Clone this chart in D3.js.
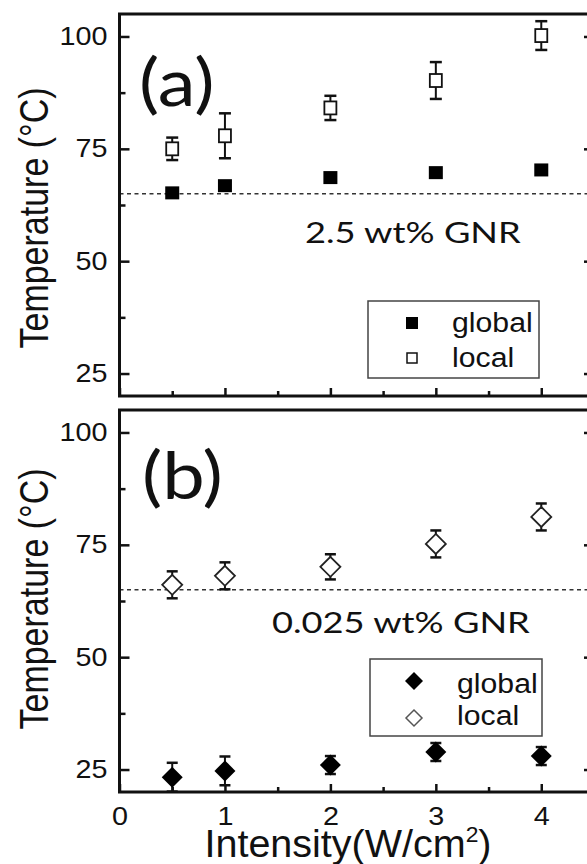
<!DOCTYPE html>
<meta charset="utf-8" />
<script src="https://d3js.org/d3.v7.min.js"></script>
<body style="margin:0;background:#fff">
  <div id="chart"></div>
  <script>
    // data
    const intensity = [0.5, 1, 2, 3, 4];
    // (a) 2.5 wt% GNR
    const globalA = [65.2, 66.8, 68.6, 69.7, 70.3];
    const globalAErr = [0.8, 0.8, 0.8, 0.8, 0.8];
    const localA = [75.0, 77.9, 84.1, 90.2, 100.2];
    const localAErr = [2.5, 5.0, 2.7, 4.1, 3.2];
    // (b) 0.025 wt% GNR
    const globalB = [23.3, 24.7, 26.0, 28.9, 28.0];
    const globalBErr = [3.2, 3.2, 2.0, 2.0, 2.0];
    const localB = [66.1, 68.1, 70.1, 75.2, 81.2];
    const localBErr = [3.0, 3.0, 2.8, 3.0, 3.0];
    const refTemp = 65;
    const xTicks = [0, 1, 2, 3, 4];
    const xMinor = [0.5, 1.5, 2.5, 3.5];
    const yTicks = [25, 50, 75, 100];
    const yMinor = [37.5, 62.5, 87.5];

    const W = 587, H = 864;
    const sx = 1.15; // figure is stretched horizontally
    const svg = d3.select("#chart").append("svg")
      .attr("width", W).attr("height", H)
      .style("font-family", "'Liberation Sans', Arial, sans-serif");

    const x = d3.scaleLinear().domain([0, 4.5]).range([119.5, 594]);

    function panel(top, bottom, opts) {
      const y = d3.scaleLinear().domain([20, 105]).range([bottom, top]);
      const g = svg.append("g");

      // dashed reference line
      g.append("line")
        .attr("x1", x(0)).attr("x2", x(4.5))
        .attr("y1", y(refTemp)).attr("y2", y(refTemp))
        .attr("stroke", "#333").attr("stroke-width", 1.5)
        .attr("stroke-dasharray", "4,3.5");

      // axes with inward ticks
      const left = g.append("g").attr("transform", "translate(" + x(0) + ",0)")
        .call(d3.axisLeft(y).tickValues(yTicks).tickSize(-10).tickPadding(11));
      g.append("g").attr("transform", "translate(" + x(0) + ",0)")
        .call(d3.axisLeft(y).tickValues(yMinor).tickSize(-6).tickFormat(""));
      g.append("g").attr("transform", "translate(" + x(4.5) + ",0)")
        .call(d3.axisRight(y).tickValues(yTicks).tickSize(-10).tickFormat(""));
      g.append("g").attr("transform", "translate(" + x(4.5) + ",0)")
        .call(d3.axisRight(y).tickValues(yMinor).tickSize(-6).tickFormat(""));
      const bot = g.append("g").attr("transform", "translate(0," + bottom + ")")
        .call(d3.axisBottom(x).tickValues(xTicks).tickSize(-8).tickPadding(15)
          .tickFormat(opts.xLabels ? d3.format("d") : ""));
      g.append("g").attr("transform", "translate(0," + bottom + ")")
        .call(d3.axisBottom(x).tickValues(xMinor).tickSize(-5).tickFormat(""));

      g.selectAll(".domain").remove();
      g.selectAll(".tick text").filter(function () { return !this.textContent; }).remove();
      g.selectAll(".tick line").attr("stroke", "#111").attr("stroke-width", 2.5);
      g.selectAll(".tick text").attr("fill", "#111").style("font-size", "25px")
        .attr("font-family", "'Liberation Sans', Arial, sans-serif");
      left.selectAll(".tick text").attr("transform", "scale(" + sx + ",1)")
        .attr("x", -12 / sx);
      bot.selectAll(".tick text").attr("transform", "scale(" + sx + ",1)")
        .attr("x", 0);

      // frame
      g.append("rect")
        .attr("x", x(0)).attr("y", top)
        .attr("width", x(4.5) - x(0)).attr("height", bottom - top)
        .attr("fill", "none").attr("stroke", "#111").attr("stroke-width", 3);

      // y title
      g.append("text")
        .attr("transform", "translate(48," + opts.titleY + ") rotate(-90) scale(1,1.19)")
        .attr("text-anchor", "middle")
        .style("font-size", "34px").attr("fill", "#111")
        .text("Temperature (°C)");

      // panel tag
      g.append("text")
        .attr("transform", "translate(" + opts.tagX + "," + opts.tagY + ") scale(1.15,1)")
        .style("font-family", "Lato, 'Open Sans', sans-serif")
        .style("font-size", "66px").attr("fill", "#111")
        .text(opts.tag);

      // sample label
      g.append("text")
        .attr("transform", "translate(" + opts.labelX + "," + opts.labelY + ") scale(1.25,1)")
        .style("font-family", "Lato, 'Open Sans', sans-serif")
        .style("font-size", "29px").attr("fill", "#111")
        .text(opts.label);

      return { g, y };
    }

    function errorBars(g, y, vals, errs, cap) {
      const eb = g.append("g").attr("stroke", "#111").attr("stroke-width", 2);
      intensity.forEach((xi, i) => {
        const cx = x(xi);
        eb.append("line").attr("x1", cx).attr("x2", cx)
          .attr("y1", y(vals[i] - errs[i])).attr("y2", y(vals[i] + errs[i]));
        [vals[i] - errs[i], vals[i] + errs[i]].forEach(v => {
          eb.append("line").attr("x1", cx - cap).attr("x2", cx + cap)
            .attr("y1", y(v)).attr("y2", y(v)).attr("stroke-width", 2.5);
        });
      });
    }

    const diamond = s => "M0," + (-s) + "L" + s + ",0L0," + s + "L" + (-s) + ",0Z";

    // ---------- panel (a)
    const pa = panel(14, 396, {
      xLabels: false, titleY: 218, tag: "(a)", tagX: 139, tagY: 106,
      label: "2.5 wt% GNR", labelX: 305, labelY: 243
    });
    errorBars(pa.g, pa.y, localA, localAErr, 6);
    errorBars(pa.g, pa.y, globalA, globalAErr, 6);
    pa.g.selectAll(".locA").data(localA).join("rect")
      .attr("x", (d, i) => x(intensity[i]) - 6).attr("y", d => pa.y(d) - 6.5)
      .attr("width", 12).attr("height", 13)
      .attr("fill", "#fff").attr("stroke", "#111").attr("stroke-width", 1.8);
    pa.g.selectAll(".gloA").data(globalA).join("rect")
      .attr("x", (d, i) => x(intensity[i]) - 7).attr("y", d => pa.y(d) - 6.5)
      .attr("width", 14).attr("height", 13).attr("fill", "#000");

    // legend (a)
    const la = pa.g.append("g");
    la.append("rect").attr("x", 368).attr("y", 301).attr("width", 171).attr("height", 77)
      .attr("fill", "#fff").attr("stroke", "#444").attr("stroke-width", 1.5);
    la.append("rect").attr("x", 406).attr("y", 317).attr("width", 12).attr("height", 12).attr("fill", "#000");
    la.append("rect").attr("x", 407).attr("y", 353).attr("width", 10).attr("height", 10)
      .attr("fill", "#fff").attr("stroke", "#111").attr("stroke-width", 1.5);
    la.append("text").attr("transform", "translate(452,332) scale(1.12,1)")
      .style("font-size", "27px").attr("fill", "#111").text("global");
    la.append("text").attr("transform", "translate(452,367) scale(1.12,1)")
      .style("font-size", "27px").attr("fill", "#111").text("local");

    // ---------- panel (b)
    const pb = panel(410, 792, {
      xLabels: true, titleY: 599, tag: "(b)", tagX: 142, tagY: 499,
      label: "0.025 wt% GNR", labelX: 272, labelY: 633
    });
    errorBars(pb.g, pb.y, localB, localBErr, 5.5);
    errorBars(pb.g, pb.y, globalB, globalBErr, 5.5);
    pb.g.selectAll(".locB").data(localB).join("path")
      .attr("transform", (d, i) => "translate(" + x(intensity[i]) + "," + pb.y(d) + ")")
      .attr("d", diamond(10))
      .attr("fill", "#fff").attr("stroke", "#222").attr("stroke-width", 1.8);
    pb.g.selectAll(".gloB").data(globalB).join("path")
      .attr("transform", (d, i) => "translate(" + x(intensity[i]) + "," + pb.y(d) + ")")
      .attr("d", diamond(10.5)).attr("fill", "#000");

    // legend (b)
    const lb = pb.g.append("g");
    lb.append("rect").attr("x", 370).attr("y", 659).attr("width", 172).attr("height", 77)
      .attr("fill", "#fff").attr("stroke", "#444").attr("stroke-width", 1.5);
    lb.append("path").attr("transform", "translate(414,681)").attr("d", diamond(9)).attr("fill", "#000");
    lb.append("path").attr("transform", "translate(414,718)").attr("d", diamond(8))
      .attr("fill", "#fff").attr("stroke", "#555").attr("stroke-width", 1.5);
    lb.append("text").attr("transform", "translate(457,693) scale(1.12,1)")
      .style("font-size", "27px").attr("fill", "#111").text("global");
    lb.append("text").attr("transform", "translate(457,725) scale(1.12,1)")
      .style("font-size", "27px").attr("fill", "#111").text("local");

    // x title
    const xt = svg.append("text")
      .attr("transform", "translate(348,857) scale(1.04,1)")
      .attr("text-anchor", "middle")
      .style("font-size", "38px").attr("fill", "#111");
    xt.append("tspan").text("Intensity(W/cm");
    xt.append("tspan").attr("dy", -15).style("font-size", "22px").text("2");
    xt.append("tspan").attr("dy", 15).text(")");
  </script>
</body>
